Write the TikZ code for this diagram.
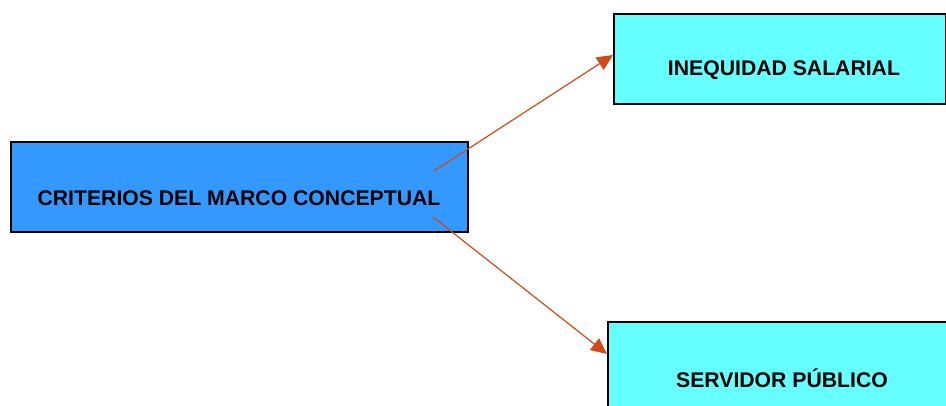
\documentclass[tikz,border=0pt]{standalone}
\usepackage{fontspec}
\setmainfont{Liberation Sans}
\usetikzlibrary{arrows.meta,calc}
\definecolor{leftblue}{HTML}{3399FF}
\definecolor{lightcyan}{HTML}{66FFFF}
\definecolor{arrowred}{HTML}{D04A1A}
\begin{document}
\begin{tikzpicture}[x=0.75pt,y=-0.75pt,
  boxstyle/.style={draw=black,line width=1.5pt,inner sep=0pt,anchor=north west},
  labelstyle/.style={font=\bfseries\fontsize{15.9pt}{19pt}\selectfont,inner sep=0pt},
  conn/.style={draw=arrowred,line width=0.9pt,-{Triangle[length=12pt,width=11pt]}}]
\useasboundingbox (0,0) rectangle (946,406);
\begin{scope}
\clip (0,0) rectangle (946,406);
\node[boxstyle,fill=leftblue,minimum width=457*0.75pt,minimum height=90*0.75pt] (crit) at (10,141) {};
\node[boxstyle,fill=lightcyan,minimum width=332*0.75pt,minimum height=90*0.75pt] (ine) at (613,13) {};
\node[boxstyle,fill=lightcyan,minimum width=350*0.75pt,minimum height=92*0.75pt] (ser) at (607,321) {};
\end{scope}
\node[labelstyle] (tcrit) at (239,198) {CRITERIOS DEL MARCO CONCEPTUAL};
\node[labelstyle] (tine) at (784,70) {INEQUIDAD SALARIAL};
\node[labelstyle] (tser) at (782,378) {SERVIDOR PÚBLICO};
\coordinate (s1) at (434,171);
\coordinate (s2) at (433,217);
\draw[conn] (s1) -- ($(ine.north west)+(0,42)$);
\draw[conn] (s2) -- ($(ser.north west)+(0,33)$);
\end{tikzpicture}
\end{document}
